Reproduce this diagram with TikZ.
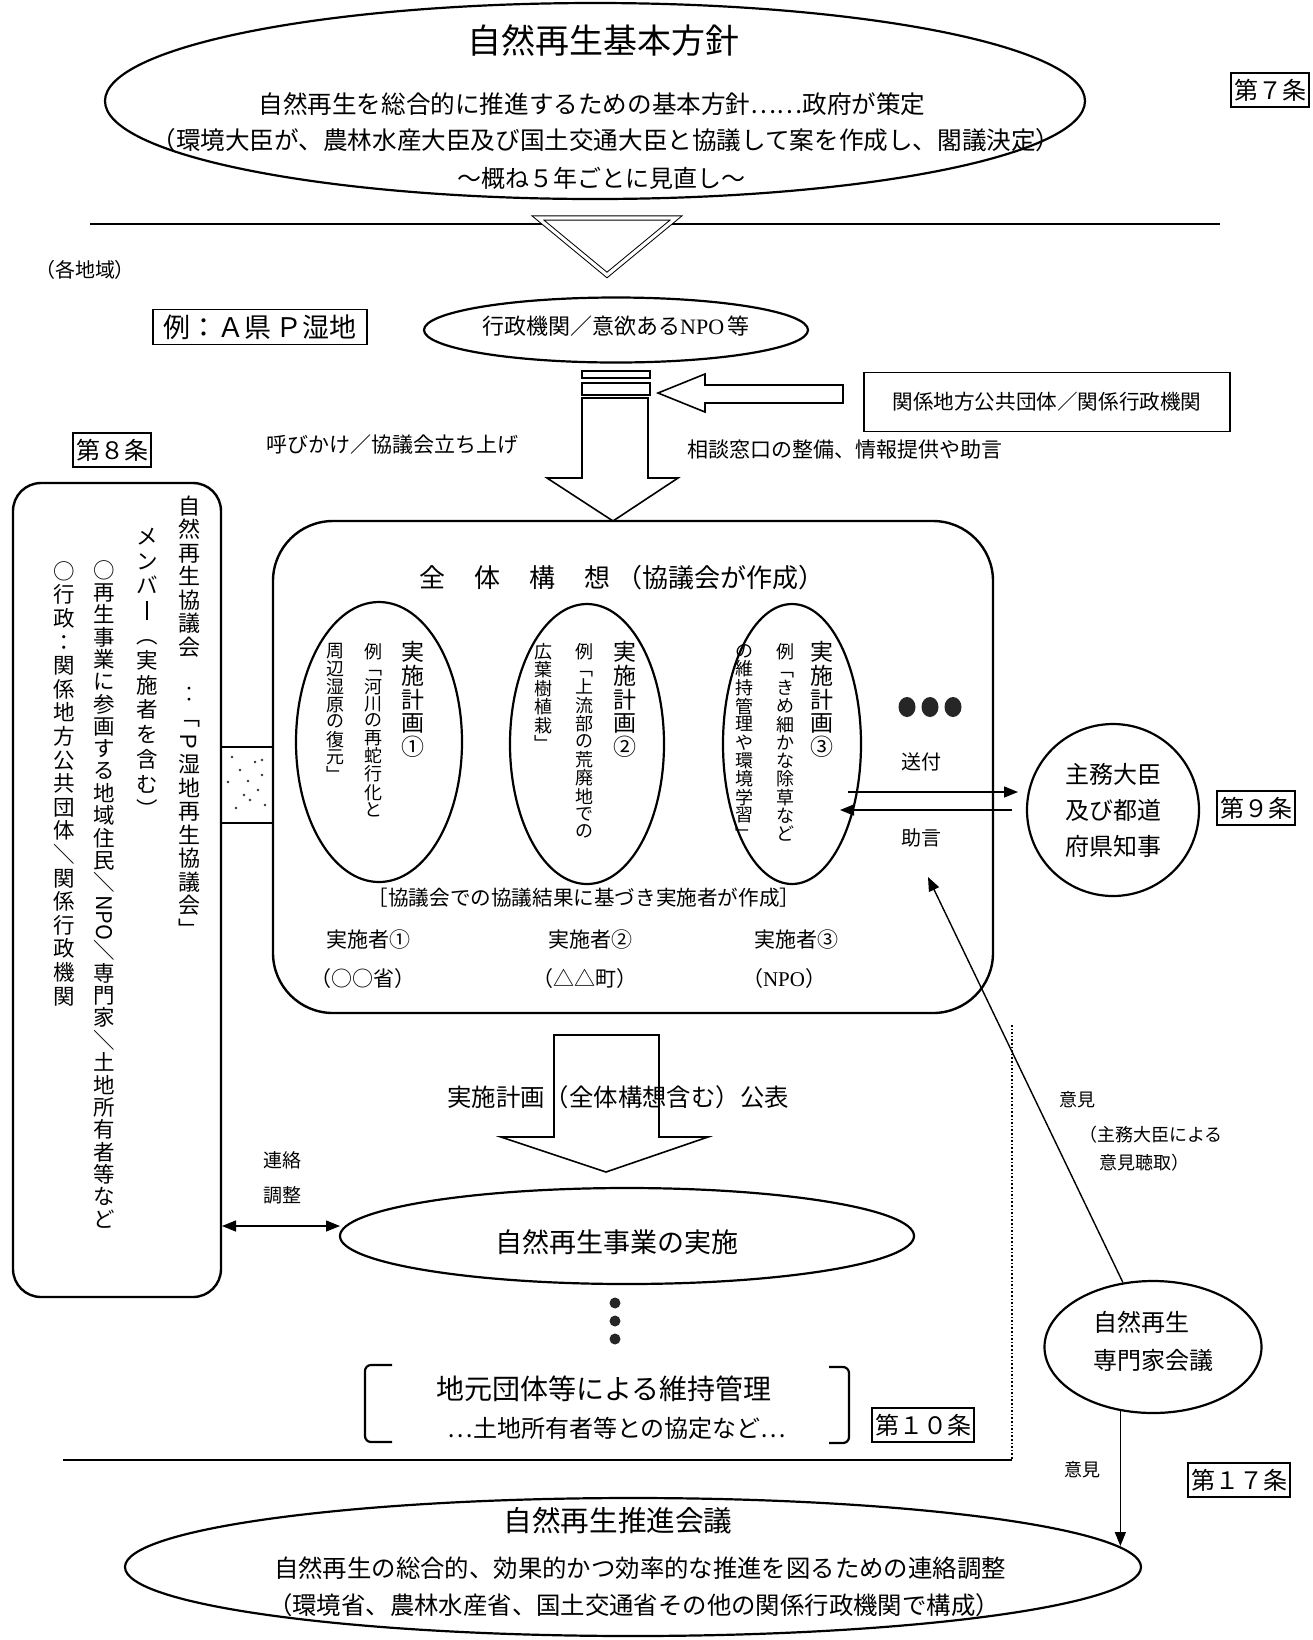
\documentclass[tikz,border=0pt]{standalone}
\usepackage{fontspec}
\setmainfont{Noto Sans CJK JP}
\newfontfamily\lser{Liberation Serif}
\usetikzlibrary{shapes.geometric,arrows.meta,calc}
\newcommand\fsz[1]{\fontsize{#1}{#1}\selectfont}
\ExplSyntaxOn
\NewDocumentCommand\vtxt{ m m m }
 {
  \vtop
   {
    \offinterlineskip
    \fontsize{#1}{#2}\selectfont
    \tl_map_inline:nn {#3}
     {
      \hbox_to_wd:nn {#1}
       { \hss \vrule~width~0pt~height~0.8\dimexpr #2\relax~depth~0.2\dimexpr #2\relax ##1 \hss }
     }
   }
 }
\ExplSyntaxOff
\begin{document}
\begin{tikzpicture}[x=0.5pt,y=-0.5pt,
  every node/.style={inner sep=0pt},
  ell/.style={ellipse, draw, line width=1.1pt},
  art/.style={draw, line width=0.8pt, inner xsep=1.5pt, inner ysep=3pt, font=\fsz{12pt}},
  arr/.style={-{Triangle[length=7pt,width=5.5pt]}, line width=0.7pt},
  blk/.style={draw, line width=0.8pt, fill=white},
  dot/.style={ellipse, fill=black!85},
]
\fill[white] (0,0) rectangle (1313,1640);
\useasboundingbox (0,0) rectangle (1313,1640);

% separators
\draw[line width=0.7pt] (90,224) -- (1220,224);
\draw[line width=0.8pt, densely dotted] (1012,1025) -- (1012,1460);
\draw[line width=0.7pt] (1012,1460) -- (63,1460);

% top ellipse
\node[ell, minimum width=490pt, minimum height=98pt] (basic) at (595,101) {};
\node (t1) at (603,41) {\fsz{17pt}自然再生基本方針};
\node (t2) at (592,104) {\fsz{12.3pt}自然再生を総合的に推進するための基本方針……政府が策定};
\node (t3) at (606,140) {\fsz{12.3pt}（環境大臣が、農林水産大臣及び国土交通大臣と協議して案を作成し、閣議決定）};
\node (t4) at (601,178) {\fsz{12pt}～概ね５年ごとに見直し～};
\node[art] (a7) at (1270,90) {第７条};

% triangle
\draw[double, double distance=1.6pt, line width=0.5pt, fill=white] (538,218) -- (676,218) -- (607,275) -- cycle;

\node (region) at (85,270) {\fsz{10pt}（各地域）};
\node[draw, line width=0.9pt, minimum width=107pt, minimum height=17.5pt] (ex) at (260,327) {\fsz{13.5pt}例：Ａ県\,Ｐ湿地};

% NPO ellipse
\node[ell, minimum width=192pt, minimum height=32.5pt] (npo) at (616,330) {};
\node (npot) at (616,326) {\fsz{11pt}行政機関／意欲ある{\lser NPO}\,等};

% block arrow down
\draw[blk, line width=0.7pt] (582,371) rectangle (650,378);
\draw[blk, line width=0.7pt] (582,383) rectangle (650,395);
\draw[blk] (582,398) -- (582,478) -- (547,478) -- (613,521) -- (678,478) -- (648,478) -- (648,398) -- cycle;

% left hollow arrow
\draw[blk] (658,393) -- (705,374) -- (705,385) -- (843,385) -- (843,403) -- (705,403) -- (705,412) -- cycle;
\node[draw, line width=0.9pt, minimum width=183pt, minimum height=29.5pt] (rel) at (1047,402) {\fsz{10.3pt}関係地方公共団体／関係行政機関};

\node (call) at (392,445) {\fsz{10.5pt}呼びかけ／協議会立ち上げ};
\node (consult) at (845,450) {\fsz{10.5pt}相談窓口の整備、情報提供や助言};

% council
\node[art] (a8) at (112,450) {第８条};
\node[draw, line width=1.2pt, rounded corners=14pt, minimum width=104pt, minimum height=407pt] (council) at (117,890) {};
\node[anchor=north] (c1) at (189,495) {\vtxt{11pt}{11.75pt}{自然再生協議会{}︰﹁{\rotatebox[origin=c]{-90}{Ｐ}}湿地再生協議会﹂}};
\node[anchor=north] (c2) at (147,524) {\vtxt{10.75pt}{12.4pt}{メンバ{\rule[-0.05em]{0.07em}{0.85em}}︵実施者を含む︶}};
\node[anchor=north] (c3) at (104,560) {\vtxt{10.75pt}{11.05pt}{○再生事業に参画する地域住民＼{\rotatebox[origin=c]{-90}{NPO}}＼専門家＼土地所有者等など}};
\node[anchor=north] (c4) at (64,560) {\vtxt{10.75pt}{11.8pt}{○行政：関係地方公共団体＼関係行政機関}};

% link council - plan
\draw[line width=1pt] (221,747) -- (273,747) (221,823) -- (273,823);
\foreach \p in {(232,757),(240,770),(255,762),(262,775),(258,790),(250,800),(265,805),(236,808),(244,795),(228,782),(262,760),(248,781)}
  \fill[black!80] \p circle[radius=1.3];

% plan
\node[draw, line width=1.2pt, rounded corners=30pt, minimum width=360pt, minimum height=246pt] (plan) at (633,767) {};
\node (plt) at (622,578) {\fsz{13pt}全\hspace{14.5pt}体\hspace{14.5pt}構\hspace{14.5pt}想\hspace{3pt}（協議会が作成）};

\node[ell, minimum width=83pt, minimum height=140pt] (e1) at (379,742) {};
\node[ell, minimum width=77pt, minimum height=140pt] (e2) at (587,744) {};
\node[ell, minimum width=69pt, minimum height=140pt] (e3) at (792,744) {};

\node[anchor=north] (e1a) at (413,641) {\vtxt{11.5pt}{11.5pt}{実施計画①}};
\node[anchor=north] (e1b) at (373,643) {\vtxt{9pt}{8.2pt}{例﹁河川の再蛇行化と}};
\node[anchor=north] (e1c) at (335,643) {\vtxt{9pt}{8.3pt}{周辺湿原の復元﹂}};
\node[anchor=north] (e2a) at (625,641) {\vtxt{11.5pt}{11.5pt}{実施計画②}};
\node[anchor=north] (e2b) at (584,643) {\vtxt{9pt}{8.5pt}{例﹁上流部の荒廃地での}};
\node[anchor=north] (e2c) at (543,643) {\vtxt{9pt}{8.3pt}{広葉樹植栽﹂}};
\node[anchor=north] (e3a) at (822,641) {\vtxt{11.5pt}{11.5pt}{実施計画③}};
\node[anchor=north] (e3b) at (785,643) {\vtxt{9pt}{9pt}{例﹁きめ細かな除草など}};
\node[anchor=north] (e3c) at (744,643) {\vtxt{9pt}{8.7pt}{の維持管理や環境学習﹂}};

\node (note) at (584,898) {\fsz{10.3pt}［協議会での協議結果に基づき実施者が作成］};
\node (i1) at (368,940) {\fsz{10.5pt}実施者①};
\node (i1b) at (363,979) {\fsz{10.5pt}（○○省）};
\node (i2) at (590,940) {\fsz{10.5pt}実施者②};
\node (i2b) at (585,979) {\fsz{10.5pt}（△△町）};
\node (i3) at (796,940) {\fsz{10.5pt}実施者③};
\node (i3b) at (784,979) {\fsz{10.5pt}（{\lser NPO}）};

\node[dot, minimum width=8.5pt, minimum height=10pt] (d1) at (907,707) {};
\node[dot, minimum width=8.5pt, minimum height=10pt] (d2) at (930,707) {};
\node[dot, minimum width=8.5pt, minimum height=10pt] (d3) at (953,707) {};

% minister
\node[circle, draw, line width=1.1pt, minimum size=86pt, align=center, font=\fsz{12pt}] (min) at (1113,810) {主務大臣\\[6pt]及び都道\\[6pt]府県知事};
\node[art] (a9) at (1256,808) {第９条};
\node (send) at (921,762) {\fsz{10pt}送付};
\node (adv) at (921,838) {\fsz{10pt}助言};
\coordinate (sa) at (848,792);
\coordinate (sb) at (1018,792);
\coordinate (aa) at (1012,810);
\coordinate (ab) at (840,810);
\draw[arr] (sa) -- (sb);
\draw[arr] (aa) -- (ab);

% publish arrow
\draw[line width=0.8pt] (554,1035) -- (554,1137) -- (501,1137) -- (606,1172) -- (708,1137) -- (659,1137) -- (659,1035) -- cycle;
\node (pub) at (618,1097) {\fsz{12.2pt}実施計画（全体構想含む）公表};

% implementation
\node[ell, minimum width=287pt, minimum height=48pt] (impl) at (627,1236) {};
\node (implt) at (617,1242) {\fsz{13.5pt}自然再生事業の実施};
\node (r1) at (282,1160) {\fsz{9.5pt}連絡};
\node (r2) at (282,1195) {\fsz{9.5pt}調整};
\coordinate (lk1) at (222,1226);
\coordinate (lk2) at (340,1226);
\draw[{Triangle[length=7pt,width=5.5pt]}-{Triangle[length=7pt,width=5.5pt]}, line width=0.7pt] (lk1) -- (lk2);

\node[circle, fill=black!85, minimum size=5.5pt] (v1) at (615,1303) {};
\node[circle, fill=black!85, minimum size=5.5pt] (v2) at (615,1321) {};
\node[circle, fill=black!85, minimum size=5.5pt] (v3) at (615,1339) {};

% maintenance
\draw[line width=1.1pt, rounded corners=3pt] (392,1365) -- (365,1365) -- (365,1442) -- (392,1442);
\draw[line width=1.1pt, rounded corners=3pt] (829,1367) -- (849,1367) -- (849,1443) -- (829,1443);
\node (maint) at (604,1389) {\fsz{14pt}地元団体等による維持管理};
\node (maint2) at (617,1428) {\fsz{12pt}…土地所有者等との協定など…};
\node[art] (a10) at (923,1425) {第１０条};

% expert
\node[ell, minimum width=108.5pt, minimum height=66pt] (exp) at (1153,1347) {};
\node[align=left, font=\fsz{12pt}] (expt) at (1153,1341) {自然再生\\[7pt]専門家会議};
\coordinate (advTip) at (928,877);
\draw[arr] (exp.115) -- (advTip);
\node (op1) at (1077,1100) {\fsz{9pt}意見};
\node[anchor=west, align=left, font=\fsz{9pt}] (op1b) at (1079,1149) {（主務大臣による\\[5pt]\hspace{10pt}意見聴取）};

% promotion council
\node[ell, minimum width=508pt, minimum height=69pt] (promo) at (633,1567) {};
\coordinate (promoTip) at (1120,1546);
\draw[arr] (exp.243) -- (exp.243 |- promoTip);
\node (op2) at (1082,1470) {\fsz{9pt}意見};
\node[art] (a17) at (1239,1480) {第１７条};
\node (p1) at (618,1521) {\fsz{14.3pt}自然再生推進会議};
\node (p2) at (640,1568) {\fsz{12.2pt}自然再生の総合的、効果的かつ効率的な推進を図るための連絡調整};
\node (p3) at (634,1605) {\fsz{12.2pt}（環境省、農林水産省、国土交通省その他の関係行政機関で構成）};
\end{tikzpicture}
\end{document}
